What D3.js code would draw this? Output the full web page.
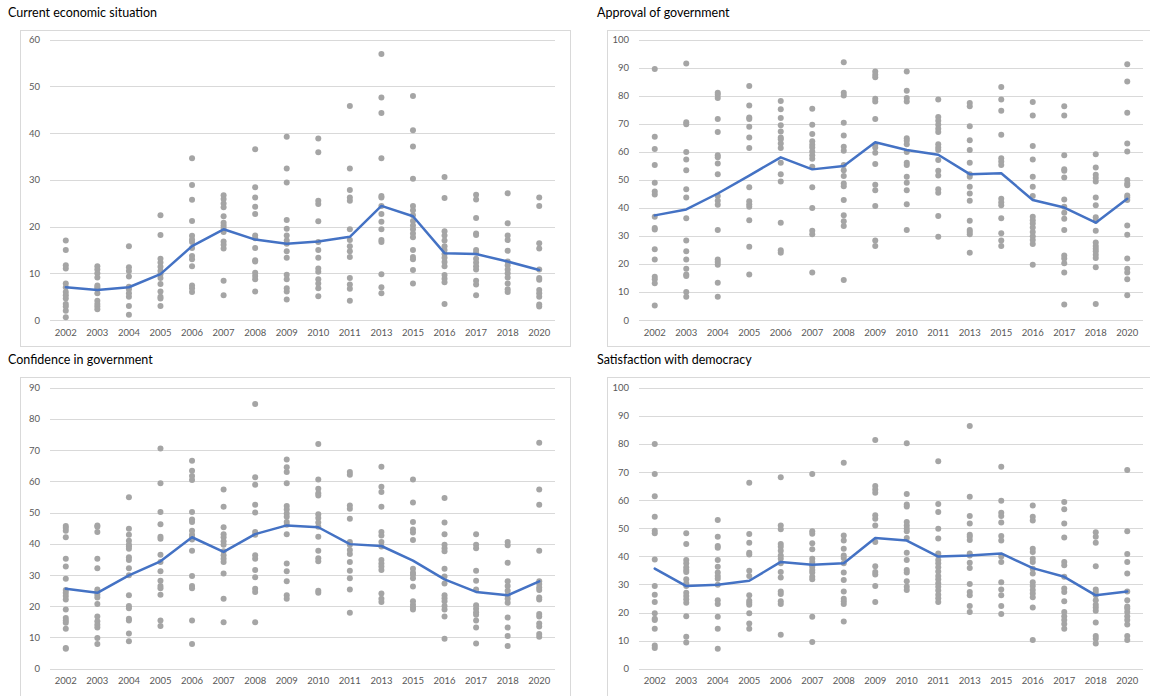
<!DOCTYPE html>
<html>
<head>
<meta charset="utf-8">
<script src="https://cdn.jsdelivr.net/npm/d3@7"></script>
<style>
  body { margin: 0; background: #fff; }
  text { font-family: Lato, "Liberation Sans", sans-serif; }
</style>
</head>
<body>
<svg id="chart" width="1150" height="696"></svg>
<script>
// Survey years shown on every panel (gaps in the series are simply skipped)
const years = ["2002","2003","2004","2005","2006","2007","2008","2009","2010","2011","2013","2015","2016","2017","2018","2020"];

// Current economic situation: per-country values for each year, and the yearly average
const economyPoints = [
  [17.0,15.0,11.7,11.0,7.8,7.0,6.0,5.3,4.6,3.4,2.9,2.0,0.6],
  [11.5,10.8,10.0,9.1,7.4,7.0,6.6,5.7,4.1,3.4,2.9,2.3],
  [15.8,11.3,10.5,9.3,7.1,6.6,5.7,5.0,3.0,1.1],
  [22.4,18.2,13.1,12.3,11.4,10.5,9.8,9.0,7.7,6.1,5.0,4.6,3.0],
  [34.6,28.9,25.7,21.2,18.0,17.2,16.7,15.4,13.7,13.0,11.5,7.4,6.8,6.0],
  [26.7,25.9,24.9,24.1,22.2,20.8,20.2,19.7,18.8,16.8,16.1,15.3,8.4,5.3],
  [36.5,28.4,26.2,24.2,22.7,18.1,17.5,15.4,12.8,12.5,10.1,9.4,8.7,6.1],
  [39.2,32.4,29.4,21.4,19.5,18.1,17.0,16.3,14.7,13.3,9.7,8.7,6.8,6.1,4.4],
  [38.8,35.9,25.5,24.8,21.1,16.7,15.0,13.3,11.0,10.3,8.7,7.8,6.8,5.1],
  [45.8,32.4,27.8,26.2,25.5,19.4,17.1,15.8,14.7,13.5,9.0,7.6,6.7,4.1],
  [56.9,47.6,44.3,34.6,26.5,26.2,24.4,22.7,21.0,19.4,17.1,16.7,9.8,7.0,5.7],
  [47.9,40.6,37.1,30.2,24.4,23.5,22.4,21.2,20.2,19.4,18.5,17.7,15.0,13.5,13.0,10.7,7.8],
  [30.6,26.1,19.0,18.1,17.0,15.8,15.0,14.1,13.3,12.4,11.5,9.6,8.8,8.1,3.4],
  [26.8,25.8,21.8,18.5,18.2,15.0,14.4,13.1,12.3,11.5,10.8,8.4,7.6,5.3],
  [27.1,20.7,18.1,17.1,14.8,12.5,11.7,10.8,10.0,9.1,7.8,6.6,6.0],
  [26.2,24.4,16.4,15.3,10.8,9.0,8.6,6.4,5.7,5.0,3.3,2.9]
];
const economyMean = [7.0,6.4,7.0,9.8,15.8,19.4,17.2,16.3,16.8,17.8,24.4,22.2,14.3,14.1,12.5,10.7];

// Approval of government
const approvalPoints = [
  [89.5,65.3,61.0,55.3,48.9,45.8,44.7,36.8,32.8,32.3,25.2,21.6,15.4,14.5,13.1,5.2],
  [91.4,70.5,69.8,59.9,57.2,53.4,46.6,43.7,36.3,28.3,24.5,21.6,18.3,16.2,15.7,10.0,8.3],
  [81.0,80.3,79.1,71.7,67.0,58.7,58.0,55.8,52.0,44.2,42.5,41.1,32.1,21.6,20.7,19.7,13.3,8.3],
  [83.4,76.5,72.2,71.7,68.9,65.1,61.3,47.3,42.3,41.3,40.4,35.6,26.1,16.2],
  [78.1,75.1,72.0,69.4,67.2,65.1,64.4,62.9,61.3,56.1,52.0,49.4,34.7,24.9,24.0],
  [75.3,69.6,66.3,63.7,62.5,61.5,60.1,58.7,57.5,54.6,47.3,39.9,31.8,30.6,16.9],
  [91.9,81.0,80.0,70.3,65.8,61.8,60.3,55.3,53.4,51.3,48.7,47.7,42.8,37.3,35.2,33.5,14.3],
  [88.6,87.4,86.5,78.9,77.9,71.7,62.5,61.5,59.6,55.6,48.2,46.3,40.6,28.3,26.4],
  [88.6,81.7,79.1,77.9,64.8,63.9,62.7,59.9,56.1,55.3,51.1,48.9,46.3,41.3,32.1],
  [78.6,72.4,71.0,69.6,68.2,67.0,62.7,61.5,60.6,57.0,53.2,51.5,46.6,45.4,37.1,29.7],
  [77.4,76.2,69.1,64.1,60.6,56.1,52.0,51.1,47.5,45.1,42.5,35.4,32.1,31.4,30.6,24.0],
  [83.1,78.6,74.6,66.0,57.7,56.5,55.3,43.2,42.0,40.9,36.3,30.9,28.3,26.4],
  [77.7,72.9,62.0,57.2,51.1,47.5,44.2,36.8,35.6,34.4,33.0,31.4,29.9,28.5,27.1,19.7],
  [76.2,72.9,58.7,53.7,53.2,50.8,43.0,40.4,38.2,36.1,32.1,23.0,21.9,20.2,16.9,5.5],
  [59.1,54.4,51.8,50.6,49.4,43.7,40.9,36.6,35.4,31.8,27.6,26.4,25.4,24.5,23.3,22.1,18.8,5.7],
  [91.2,85.0,73.9,62.9,60.1,49.9,48.7,48.0,44.4,43.7,42.8,33.7,30.4,21.9,18.3,16.9,14.5,8.8]
];
const approvalMean = [37.3,39.4,45.1,51.5,58.0,53.7,54.9,63.4,60.6,58.9,52.0,52.3,42.8,40.1,34.7,43.2];

// Confidence in government
const confidencePoints = [
  [45.7,45.1,44.2,42.1,35.2,32.7,28.8,25.2,24.3,23.3,22.2,19.0,16.2,15.4,14.7,12.8,6.6,6.4],
  [45.9,45.5,43.8,35.2,32.2,25.4,24.6,23.7,22.8,20.7,16.7,15.2,14.1,13.2,9.8,7.9],
  [54.9,44.8,42.9,41.0,39.7,39.1,38.4,35.7,34.8,32.2,29.9,23.5,20.1,19.4,16.0,15.4,11.3,8.8],
  [70.5,59.4,50.2,46.3,42.3,41.6,36.5,34.2,31.2,28.2,26.5,25.8,23.7,15.4,13.7],
  [66.6,63.4,61.7,60.4,50.2,47.8,47.0,44.2,42.9,42.1,41.4,37.8,29.7,26.5,25.8,15.4,7.9],
  [57.4,51.9,45.3,43.1,42.1,40.8,39.7,37.6,36.3,35.2,34.2,30.5,22.4,14.9],
  [84.8,61.3,58.9,52.5,50.0,43.8,42.9,36.3,35.2,31.6,29.3,25.6,24.6,14.9],
  [67.0,64.5,63.0,59.4,52.1,51.0,49.7,48.7,47.0,46.1,43.1,33.7,31.2,28.0,23.5,22.4],
  [72.0,60.6,57.6,56.2,55.5,49.5,48.3,46.8,45.5,42.3,37.8,35.4,34.4,25.0,24.3],
  [63.0,62.1,52.3,51.2,48.0,40.6,39.7,38.0,36.7,34.2,31.4,29.0,25.4,17.9],
  [64.7,58.3,56.6,51.9,43.8,42.7,40.6,39.1,34.8,33.7,32.7,31.6,24.1,22.4,21.4],
  [60.6,53.2,47.0,44.6,43.6,41.2,32.0,30.7,30.1,29.0,26.3,21.6,20.5,19.6,19.0],
  [54.7,46.8,43.1,39.7,38.6,37.6,32.0,29.5,27.3,23.5,22.6,21.6,20.1,19.0,16.7,9.6],
  [43.1,39.7,38.6,31.4,28.2,25.4,20.3,19.2,18.1,17.3,15.4,13.2,8.1],
  [40.6,39.5,33.9,28.0,26.5,25.0,23.5,22.4,21.1,16.4,13.2,10.5,7.3],
  [72.4,57.4,52.5,37.8,28.0,27.1,26.0,25.2,22.8,22.2,17.5,16.7,14.5,13.5,11.1,10.2]
];
const confidenceMean = [25.6,24.3,29.9,34.4,42.1,37.4,43.1,45.9,45.3,39.9,39.3,34.6,28.6,24.6,23.5,28.0];

// Satisfaction with democracy
const satisfactionPoints = [
  [80.0,69.3,61.4,54.1,49.1,48.2,38.9,29.4,26.3,23.7,19.7,17.8,17.3,14.2,8.3,7.4],
  [48.2,44.4,38.7,37.5,36.1,35.1,34.4,31.8,30.4,29.4,27.0,25.9,24.7,23.5,18.7,11.4,9.3],
  [52.9,47.0,43.7,43.0,38.7,36.3,34.2,33.0,32.0,29.9,24.4,23.0,18.5,14.2,7.1],
  [66.2,47.9,44.8,41.3,40.6,34.9,33.0,26.1,24.2,23.5,22.8,19.7,16.1,14.2],
  [68.1,51.0,49.6,44.4,43.4,42.0,40.3,39.1,37.5,34.4,32.5,27.5,26.6,24.0,23.0,12.1],
  [69.3,48.9,48.0,44.6,42.5,39.1,38.0,37.0,36.3,35.1,34.2,32.7,31.8,18.5,9.5],
  [73.3,47.4,45.6,42.7,40.3,39.4,37.5,34.2,31.6,27.5,24.9,24.0,23.0,16.8],
  [81.4,65.0,63.8,62.6,54.6,53.4,51.0,45.1,36.5,34.4,33.5,29.4,23.7],
  [80.2,62.2,58.4,57.7,52.2,51.0,49.8,48.9,46.5,41.3,38.7,35.1,34.2,31.1,29.2,28.0],
  [73.8,58.6,55.8,49.8,46.3,41.0,40.3,38.7,37.5,36.1,34.6,33.0,31.8,30.4,29.2,27.8,26.3,25.1,23.7],
  [86.4,61.2,54.3,51.7,47.7,47.0,45.8,41.0,40.3,37.7,35.8,30.1,27.3,26.1,22.3,20.2],
  [71.9,59.8,55.5,54.3,52.0,47.2,45.6,39.9,38.0,30.8,28.2,26.1,22.3,19.5],
  [58.1,54.1,52.7,42.7,41.5,39.1,38.0,35.6,33.9,30.8,29.4,28.0,26.8,25.4,21.8,10.2],
  [59.3,56.7,51.7,46.7,38.0,36.8,32.7,28.5,27.3,24.0,20.2,18.7,17.3,15.9,14.2],
  [48.6,47.0,44.8,36.5,28.2,27.3,26.1,24.4,22.8,21.8,20.6,16.4,11.6,10.7,9.0],
  [70.7,48.9,40.8,38.0,33.9,27.5,24.4,22.1,21.4,20.2,18.7,17.3,15.7,11.6,10.2]
];
const satisfactionMean = [35.6,29.4,29.9,31.3,38.0,37.0,37.5,46.5,45.6,39.9,40.3,41.0,35.8,32.7,26.1,27.5];

// Panel layout: frame box, plotting area and title anchor for each small multiple
const panels = [
  { title: "Current economic situation", points: economyPoints, mean: economyMean, yMax: 60,
    frame: [20, 30, 550, 316], plot: { left: 50, right: 555, bottom: 320, top: 39.5 }, titleAt: [8, 17] },
  { title: "Approval of government", points: approvalPoints, mean: approvalMean, yMax: 100,
    frame: [607, 30, 560, 316], plot: { left: 639, right: 1143, bottom: 320, top: 39.5 }, titleAt: [597, 17] },
  { title: "Confidence in government", points: confidencePoints, mean: confidenceMean, yMax: 90,
    frame: [20, 377, 550, 330], plot: { left: 50, right: 555, bottom: 668.7, top: 387.7 }, titleAt: [8, 364] },
  { title: "Satisfaction with democracy", points: satisfactionPoints, mean: satisfactionMean, yMax: 100,
    frame: [607, 377, 560, 330], plot: { left: 639, right: 1143, bottom: 668.7, top: 387.7 }, titleAt: [597, 364] }
];

const svg = d3.select("#chart");

panels.forEach(p => {
  const g = svg.append("g");

  // chart frame
  g.append("rect")
    .attr("x", p.frame[0] + 0.5).attr("y", p.frame[1] + 0.5)
    .attr("width", p.frame[2]).attr("height", p.frame[3])
    .attr("fill", "#fff").attr("stroke", "#d9d9d9").attr("stroke-width", 1);

  // title
  g.append("text")
    .attr("x", p.titleAt[0]).attr("y", p.titleAt[1])
    .attr("font-size", 12.5).attr("fill", "#000")
    .text(p.title);

  const x = d3.scaleBand().domain(years).range([p.plot.left, p.plot.right]);
  const y = d3.scaleLinear().domain([0, p.yMax]).range([p.plot.bottom, p.plot.top]);
  const ticks = d3.range(0, p.yMax + 1, 10);

  // horizontal gridlines
  g.append("g").selectAll("line").data(ticks).join("line")
    .attr("x1", p.plot.left).attr("x2", p.plot.right)
    .attr("y1", d => Math.round(y(d)) + 0.5).attr("y2", d => Math.round(y(d)) + 0.5)
    .attr("stroke", "#d9d9d9").attr("stroke-width", 1);

  // y axis labels
  const yAxis = d3.axisLeft(y).tickValues(ticks).tickSize(0).tickPadding(10);
  const ya = g.append("g").attr("transform", `translate(${p.plot.left},0)`).call(yAxis);
  ya.select(".domain").remove();
  ya.selectAll("text").attr("font-size", 9.5).attr("fill", "#595959")
    .style("font-family", "Lato, 'Liberation Sans', sans-serif");

  // x axis labels
  const xAxis = d3.axisBottom(x).tickSize(0).tickPadding(9);
  const xa = g.append("g").attr("transform", `translate(0,${p.plot.bottom})`).call(xAxis);
  xa.select(".domain").remove();
  xa.selectAll("text").attr("font-size", 9.5).attr("fill", "#595959")
    .style("font-family", "Lato, 'Liberation Sans', sans-serif");

  // individual country observations
  const dots = [];
  p.points.forEach((vals, i) => vals.forEach(v => dots.push({ year: years[i], v })));
  g.append("g").selectAll("circle").data(dots).join("circle")
    .attr("cx", d => x(d.year) + x.bandwidth() / 2)
    .attr("cy", d => y(d.v))
    .attr("r", 3)
    .attr("fill", "#a5a5a5");

  // yearly average line
  const line = d3.line()
    .x((d, i) => x(years[i]) + x.bandwidth() / 2)
    .y(d => y(d));
  g.append("path").datum(p.mean)
    .attr("d", line)
    .attr("fill", "none").attr("stroke", "#4472c4")
    .attr("stroke-width", 2.5).attr("stroke-linejoin", "round").attr("stroke-linecap", "round");
});
</script>
</body>
</html>
